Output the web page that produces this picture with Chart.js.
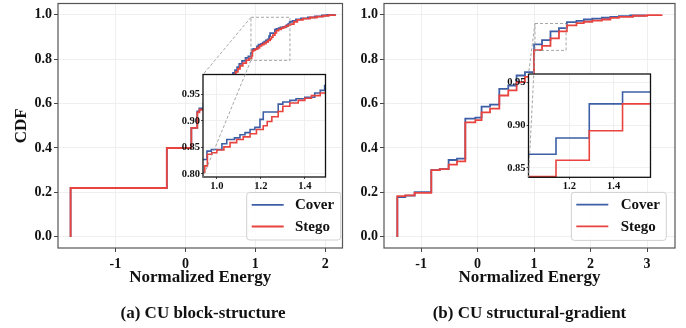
<!DOCTYPE html>
<html>
<head>
<meta charset="utf-8">
<script src="https://cdn.jsdelivr.net/npm/chart.js@4.4.1/dist/chart.umd.min.js"></script>
<style>
  body { margin: 0; width: 686px; height: 328px; background: #fff; position: relative; overflow: hidden;
         font-family: "Liberation Serif", "Times New Roman", serif; }
  canvas { position: absolute; top: 0; }
  .cap { position: absolute; top: 303px; font-weight: bold; font-size: 17px; line-height: 20px;
         transform: translateX(-50%); white-space: nowrap; color: #111; }
</style>
</head>
<body>
<canvas id="mainA" width="344" height="290" style="left:0"></canvas>
<canvas id="insetA" width="344" height="290" style="left:0"></canvas>
<canvas id="mainB" width="343" height="290" style="left:343px"></canvas>
<canvas id="insetB" width="343" height="290" style="left:343px"></canvas>
<div class="cap" style="left:203px">(a) CU block-structure</div>
<div class="cap" style="left:529.5px">(b) CU structural-gradient</div>

<script>
const SERIF = '"Liberation Serif", "Times New Roman", serif';
const seriesNames = ["Cover", "Stego"];
const seriesColors = ["#3c5fa6", "#e8433e"];

// (a) CU block-structure : empirical CDF steps (x = normalized energy, y = CDF after the step)
const blockCoverX = [-1.64, -1.64, -0.265, 0.085, 0.17, 0.20, 0.26, 0.33, 0.40, 0.47, 0.53, 0.60, 0.65, 0.68, 0.71, 0.74, 0.77, 0.81, 0.86, 0.90, 0.935, 0.955, 0.975, 1.023, 1.045, 1.08, 1.105, 1.128, 1.151, 1.173, 1.196, 1.211, 1.279, 1.30, 1.332, 1.36, 1.40, 1.445, 1.47, 1.49, 1.53, 1.58, 1.65, 1.75, 1.85, 1.95, 2.02, 2.14];
const blockCoverY = [0, 0.22, 0.40, 0.49, 0.565, 0.578, 0.60, 0.62, 0.645, 0.665, 0.685, 0.71, 0.725, 0.738, 0.75, 0.764, 0.778, 0.792, 0.805, 0.812, 0.827, 0.843, 0.846, 0.857, 0.865, 0.868, 0.874, 0.878, 0.884, 0.888, 0.903, 0.917, 0.932, 0.936, 0.939, 0.942, 0.945, 0.953, 0.958, 0.967, 0.972, 0.979, 0.983, 0.988, 0.992, 0.996, 0.999, 1.0];
const blockStegoX = [-1.64, -1.64, -0.265, 0.085, 0.17, 0.20, 0.27, 0.34, 0.41, 0.48, 0.54, 0.61, 0.66, 0.69, 0.72, 0.75, 0.78, 0.82, 0.87, 0.91, 0.945, 0.957, 0.977, 1.0, 1.032, 1.06, 1.09, 1.12, 1.151, 1.18, 1.211, 1.229, 1.25, 1.279, 1.30, 1.332, 1.37, 1.40, 1.43, 1.47, 1.50, 1.55, 1.60, 1.68, 1.78, 1.88, 1.97, 2.05, 2.14];
const blockStegoY = [0, 0.22, 0.40, 0.49, 0.56, 0.572, 0.595, 0.615, 0.638, 0.66, 0.68, 0.703, 0.72, 0.73, 0.742, 0.756, 0.77, 0.782, 0.795, 0.803, 0.815, 0.837, 0.840, 0.845, 0.851, 0.859, 0.865, 0.870, 0.876, 0.884, 0.891, 0.899, 0.908, 0.918, 0.928, 0.934, 0.939, 0.943, 0.948, 0.953, 0.957, 0.968, 0.976, 0.982, 0.987, 0.991, 0.995, 0.998, 1.0];

// (b) CU structural-gradient
const gradCoverX = [-1.421, -1.421, -1.28, -1.115, -0.82, -0.67, -0.513, -0.365, -0.218, -0.04, 0.07, 0.22, 0.384, 0.543, 0.69, 0.838, 1.0, 1.14, 1.29, 1.44, 1.58, 1.75, 1.88, 2.03, 2.2, 2.35, 2.5, 2.7, 2.96];
const gradCoverY = [0, 0.179, 0.186, 0.201, 0.30, 0.305, 0.346, 0.352, 0.532, 0.537, 0.586, 0.595, 0.666, 0.681, 0.726, 0.741, 0.866, 0.885, 0.925, 0.939, 0.966, 0.972, 0.978, 0.982, 0.986, 0.990, 0.993, 0.996, 1.0];
const gradStegoX = [-1.421, -1.421, -1.28, -1.115, -0.82, -0.67, -0.513, -0.365, -0.218, -0.04, 0.07, 0.22, 0.384, 0.543, 0.69, 0.838, 1.0, 1.14, 1.29, 1.44, 1.58, 1.75, 1.88, 2.03, 2.2, 2.35, 2.5, 2.75, 3.0, 3.257];
const gradStegoY = [0, 0.183, 0.187, 0.198, 0.30, 0.305, 0.325, 0.34, 0.515, 0.525, 0.56, 0.577, 0.636, 0.659, 0.696, 0.72, 0.84, 0.859, 0.8935, 0.925, 0.952, 0.962, 0.968, 0.973, 0.978, 0.985, 0.99, 0.995, 0.998, 1.0];

// axes limits and ticks
const yRange = [-0.05, 1.05];
const yTicks = [0, 0.2, 0.4, 0.6, 0.8, 1.0];
const blockXRange = [-1.82, 2.245];
const blockXTicks = [-1, 0, 1, 2];
const gradXRange = [-1.657, 3.494];
const gradXTicks = [-1, 0, 1, 2, 3];
const blockInsetX = [0.937, 1.494];
const blockInsetY = [0.794, 0.988];
const blockInsetXTicks = [1.0, 1.2, 1.4];
const blockInsetYTicks = [0.80, 0.85, 0.90, 0.95];
const gradInsetX = [1.016, 1.566];
const gradInsetY = [0.839, 0.96];
const gradInsetXTicks = [1.2, 1.4];
const gradInsetYTicks = [0.85, 0.90, 0.95];

function points(xs, ys) {
    return xs.map((x, i) => ({ x: x, y: ys[i] }));
}

function datasets(coverX, coverY, stegoX, stegoY, lw) {
    return [
        { label: seriesNames[0], data: points(coverX, coverY), showLine: true, stepped: true,
          borderColor: seriesColors[0], borderWidth: lw, pointRadius: 0, fill: false, order: 1 },
        { label: seriesNames[1], data: points(stegoX, stegoY), showLine: true, stepped: true,
          borderColor: seriesColors[1], borderWidth: lw, pointRadius: 0, fill: false, order: 0 }
    ];
}

function font(size) {
    return { family: SERIF, size: size, weight: "bold", lineHeight: 1 };
}

// fix axis box size so the plot area lands where the figure has it
function fixBox(w, h) {
    return s => {
        if (w != null) s.width = w;
        if (h != null) s.height = h;
        s.paddingLeft = 0; s.paddingRight = 0; s.paddingTop = 0; s.paddingBottom = 0;
    };
}

function setTicks(list) {
    return s => { s.ticks = list.map(v => ({ value: v })); };
}

const framePlugin = (color, width) => ({
    id: "frame",
    afterDatasetsDraw(chart) {
        const { ctx, chartArea: a } = chart;
        ctx.save();
        ctx.strokeStyle = color;
        ctx.lineWidth = width;
        ctx.strokeRect(a.left, a.top, a.right - a.left, a.bottom - a.top);
        ctx.restore();
    }
});

const legendPlugin = cfg => ({
    id: "cdfLegend",
    afterDraw(chart) {
        const { ctx, chartArea: a } = chart;
        const right = a.right - cfg.right, bottom = a.bottom - cfg.bottom;
        const left = right - cfg.w, top = bottom - cfg.h;
        ctx.save();
        ctx.beginPath();
        ctx.roundRect(left, top, cfg.w, cfg.h, 3);
        ctx.fillStyle = "rgba(255,255,255,0.85)";
        ctx.fill();
        ctx.strokeStyle = "#d0d0d0";
        ctx.lineWidth = 1;
        ctx.stroke();
        seriesNames.forEach((name, i) => {
            const y = top + 12.3 + i * 21.7;
            ctx.beginPath();
            ctx.strokeStyle = seriesColors[i];
            ctx.lineWidth = 1.8;
            ctx.moveTo(left + 5, y);
            ctx.lineTo(left + 37, y);
            ctx.stroke();
            ctx.fillStyle = "#111";
            ctx.font = "bold 15px " + SERIF;
            ctx.textBaseline = "middle";
            ctx.fillText(name, left + cfg.text, y + 0.5);
        });
        ctx.restore();
    }
});

const insetBackground = {
    id: "insetBg",
    beforeDraw(chart) {
        const { ctx, chartArea: a } = chart;
        ctx.save();
        ctx.fillStyle = "#fff";
        ctx.fillRect(a.left, a.top, a.right - a.left, a.bottom - a.top);
        ctx.restore();
    }
};

// dashed box on the parent axes plus the two connector lines (upper-left, lower-left)
const zoomMarks = main => ({
    id: "zoomMarks",
    afterDraw(chart) {
        const { ctx, chartArea: a } = chart;
        const mx = main.scales.x, my = main.scales.y;
        const ix = chart.scales.x, iy = chart.scales.y;
        const l = mx.getPixelForValue(ix.min), r = mx.getPixelForValue(ix.max);
        const t = my.getPixelForValue(iy.max), b = my.getPixelForValue(iy.min);
        ctx.save();
        ctx.strokeStyle = "#9c9c9c";
        ctx.lineWidth = 0.9;
        ctx.setLineDash([3, 2]);
        ctx.strokeRect(l, t, r - l, b - t);
        ctx.beginPath();
        ctx.moveTo(l, t); ctx.lineTo(a.left, a.top);
        ctx.moveTo(l, b); ctx.lineTo(a.left, a.bottom);
        ctx.stroke();
        ctx.restore();
    }
});

function mainChart(id, cover, stego, xr, xt, opt) {
    return new Chart(document.getElementById(id), {
        type: "scatter",
        data: { datasets: datasets(cover[0], cover[1], stego[0], stego[1], 1.8) },
        options: {
            responsive: false,
            animation: false,
            events: [],
            layout: { padding: opt.pad },
            plugins: { legend: { display: false }, tooltip: { enabled: false } },
            scales: {
                x: {
                    type: "linear", min: xr[0], max: xr[1],
                    afterBuildTicks: setTicks(xt),
                    afterFit: fixBox(null, 42),
                    grid: { color: "#ebebeb", lineWidth: 0.8, tickLength: 4, tickColor: "#444", tickWidth: 1 },
                    border: { display: false },
                    ticks: { font: font(14), color: "#111", padding: 5, maxRotation: 0, autoSkip: false,
                             callback: v => (v < 0 ? "-" + Math.abs(v) : String(v)) },
                    title: { display: true, text: "Normalized Energy", font: font(17), color: "#111",
                             padding: { top: 0, bottom: 4 } }
                },
                y: {
                    type: "linear", min: yRange[0], max: yRange[1],
                    afterBuildTicks: setTicks(yTicks),
                    afterFit: fixBox(opt.yWidth, null),
                    grid: { color: "#ebebeb", lineWidth: 0.8, tickLength: 4, tickColor: "#444", tickWidth: 1 },
                    border: { display: false },
                    ticks: { font: font(14), color: "#111", padding: 2, autoSkip: false,
                             callback: v => v.toFixed(1) },
                    title: { display: opt.yTitle, text: "CDF", font: font(17), color: "#111",
                             padding: { top: 13, bottom: 0 } }
                }
            }
        },
        plugins: [framePlugin("#555", 1.2), legendPlugin(opt.legend)]
    });
}

function insetChart(id, main, cover, stego, xr, yr, xt, yt, pad) {
    return new Chart(document.getElementById(id), {
        type: "scatter",
        data: { datasets: datasets(cover[0], cover[1], stego[0], stego[1], 1.6) },
        options: {
            responsive: false,
            animation: false,
            events: [],
            layout: { padding: pad },
            plugins: { legend: { display: false }, tooltip: { enabled: false } },
            scales: {
                x: {
                    type: "linear", min: xr[0], max: xr[1],
                    afterBuildTicks: setTicks(xt),
                    afterFit: fixBox(null, 16),
                    grid: { color: "#ececec", lineWidth: 0.8, tickLength: 2, tickColor: "#222" },
                    border: { display: false },
                    ticks: { font: font(10.5), color: "#111", padding: 2, maxRotation: 0, autoSkip: false,
                             callback: v => v.toFixed(1) }
                },
                y: {
                    type: "linear", min: yr[0], max: yr[1],
                    afterBuildTicks: setTicks(yt),
                    afterFit: fixBox(30, null),
                    grid: { color: "#ececec", lineWidth: 0.8, tickLength: 2, tickColor: "#222" },
                    border: { display: false },
                    ticks: { font: font(10.5), color: "#111", padding: 1, autoSkip: false,
                             callback: v => v.toFixed(2) }
                }
            }
        },
        plugins: [insetBackground, framePlugin("#111", 1.3), zoomMarks(main)]
    });
}

const mainA = mainChart("mainA", [blockCoverX, blockCoverY], [blockStegoX, blockStegoY], blockXRange, blockXTicks, {
    pad: { left: 0, right: 1.5, top: 3.5, bottom: 0 }, yWidth: 58, yTitle: true,
    legend: { right: 1.8, bottom: 8, w: 94, h: 47.5, text: 48.3 }
});
const mainB = mainChart("mainB", [gradCoverX, gradCoverY], [gradStegoX, gradStegoY], gradXRange, gradXTicks, {
    pad: { left: 0, right: 11, top: 3.5, bottom: 0 }, yWidth: 41, yTitle: false,
    legend: { right: 8.7, bottom: 7.6, w: 95, h: 48, text: 49.4 }
});

insetChart("insetA", mainA, [blockCoverX, blockCoverY], [blockStegoX, blockStegoY],
    blockInsetX, blockInsetY, blockInsetXTicks, blockInsetYTicks,
    { left: 173, right: 18.5, top: 74.5, bottom: 97 });
insetChart("insetB", mainB, [gradCoverX, gradCoverY], [gradStegoX, gradStegoY],
    gradInsetX, gradInsetY, gradInsetXTicks, gradInsetYTicks,
    { left: 155.5, right: 35.5, top: 74, bottom: 96.7 });
</script>
</body>
</html>
